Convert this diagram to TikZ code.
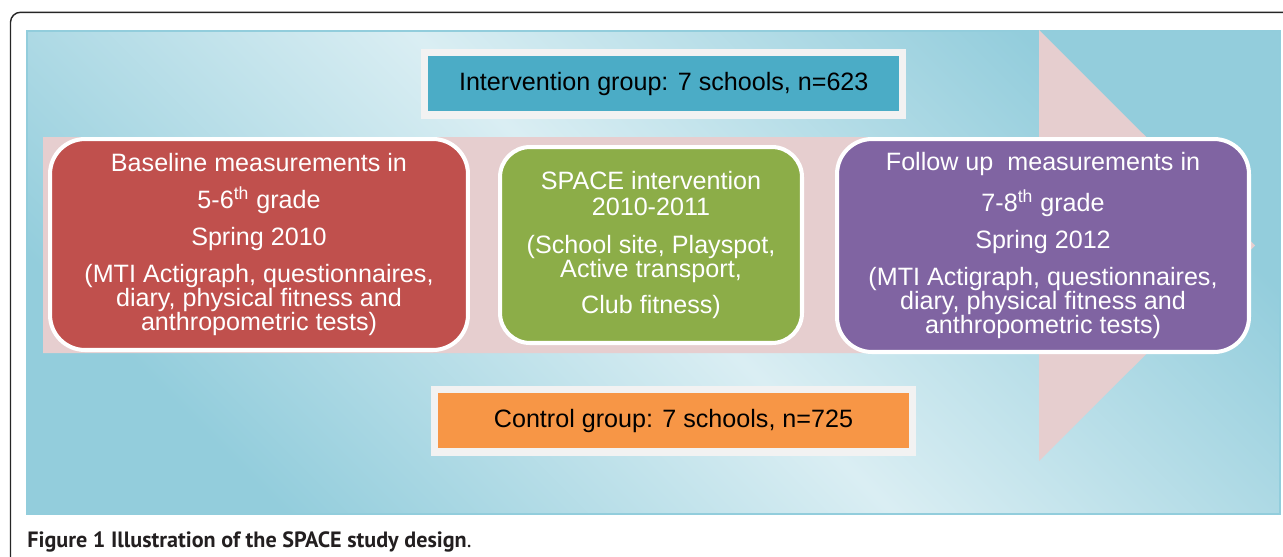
\documentclass[tikz,border=0pt]{standalone}
\usepackage{fontspec}
\setmainfont{Liberation Sans}
\newfontfamily\capfont{PT Sans}
\definecolor{bgdark}{HTML}{93CDDC}
\definecolor{bglight}{HTML}{DAEEF3}
\definecolor{panelline}{HTML}{92CDDC}
\definecolor{arrowpink}{HTML}{E6CECF}
\definecolor{redfill}{HTML}{C0504D}
\definecolor{greenfill}{HTML}{8CAD48}
\definecolor{purplefill}{HTML}{8064A2}
\definecolor{intfill}{HTML}{4BACC6}
\definecolor{ctlfill}{HTML}{F79646}
\definecolor{grpborder}{HTML}{F2F2F2}
\definecolor{captext}{HTML}{231F20}

\begin{document}
\begin{tikzpicture}[x=0.02cm,y=-0.02cm,
  stage/.style={draw=white, line width=2.3pt, rounded corners=0.7cm, text=white, align=center, inner sep=0pt, font=\fontsize{14.3}{13.7}\selectfont},
  group/.style={draw=grpborder, line width=4pt, inner sep=0pt, text=black, font=\fontsize{14.3}{17}\selectfont}]

\useasboundingbox (0,0) rectangle (1283,556);
\draw [rounded corners=0.2cm, line width=0.8pt, black!85] (10.5,600) -- (10.5,12.3) -- (1300,12.3);

\shade [top color=bgdark, bottom color=bgdark, middle color=bglight, shading angle=-45] (27,31) rectangle (1280,514);
\draw [panelline, line width=0.8pt] (27,31) rectangle (1280,514);

\fill [arrowpink] (43,137) -- (1039,137) -- (1039,30) -- (1255,245.5) -- (1039,461) -- (1039,353) -- (43,353) -- cycle;

\node [group, fill=intfill, minimum width=9.57cm, minimum height=1.25cm] (int) at (663.75,83.75) {Intervention group: 7 schools, n=623};
\node [group, fill=ctlfill, minimum width=9.58cm, minimum height=1.26cm] (ctl) at (673.5,420.5) {Control group: 7 schools, n=725};

\node [stage, fill=redfill, minimum width=8.36cm, minimum height=4.22cm] (base) at (259,244.5) {Baseline measurements in\\[7.3pt] 5-6\textsuperscript{th} grade\\[7.3pt] Spring 2010\\[7.3pt] (MTI Actigraph, questionnaires,\\ diary, physical fitness and\\ anthropometric tests)};
\node [stage, fill=greenfill, rounded corners=0.6cm, minimum width=6.04cm, minimum height=3.92cm] (act) at (651,245) {SPACE intervention\\[1.6pt] 2010-2011\\[7.9pt] (School site, Playspot,\\ Active transport,\\[6.8pt] Club fitness)};
\node [stage, fill=purplefill, minimum width=8.24cm, minimum height=4.26cm] (follow) at (1043,245.5) {Follow up\ \ measurements in\\[7.3pt] 7-8\textsuperscript{th} grade\\[7.3pt] Spring 2012\\[7.3pt] (MTI Actigraph, questionnaires,\\ diary, physical fitness and\\ anthropometric tests)};

\node [anchor=base west, inner sep=0pt, text=captext, font=\capfont\fontsize{12.6}{14}\selectfont] (cap) at (27,547) {\textbf{Figure 1 Illustration of the SPACE study design}.};
\end{tikzpicture}
\end{document}
